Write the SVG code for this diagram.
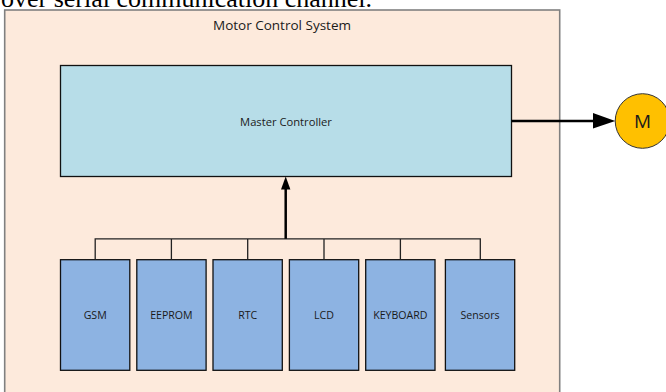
<svg xmlns="http://www.w3.org/2000/svg" width="666" height="392" viewBox="0 0 666 392">
<style>
.lbl{font-family:"Open Sans","Liberation Sans",sans-serif;font-size:10.6px;fill:#1a1a1a;text-anchor:middle;dominant-baseline:central}
.box{fill:#8db3e2;stroke:#111;stroke-width:1.3}
.bus{fill:none;stroke:#222;stroke-width:1.3}
</style>
<rect width="666" height="392" fill="#fff"/>
<text x="1" y="7" font-family="Liberation Serif,serif" font-size="26" fill="#000">over serial communication channel.</text>
<g id="system">
<rect x="4.7" y="10" width="555" height="400" fill="#fdeadc" stroke="#808080" stroke-width="1.6"/>
<text x="282" y="25" class="lbl" style="font-size:13.5px">Motor Control System</text>
</g>
<g id="master">
<rect x="60.5" y="65.5" width="451" height="111" fill="#b7dde8" stroke="#111" stroke-width="1.3"/>
<text x="286" y="121" class="lbl" style="font-size:11.2px">Master Controller</text>
</g>
<g id="motor">
<circle cx="642.5" cy="121" r="27.3" fill="#ffc000" stroke="#333" stroke-width="1"/>
<text x="642.5" y="121" class="lbl" style="font-size:19px">M</text>
</g>
<g id="gsm"><rect x="60.5" y="259.7" width="69.3" height="110.6" class="box"/><text x="95.2" y="315" class="lbl">GSM</text></g>
<g id="eeprom"><rect x="136.8" y="259.7" width="69.3" height="110.6" class="box"/><text x="171.4" y="315" class="lbl">EEPROM</text></g>
<g id="rtc"><rect x="213" y="259.7" width="69.3" height="110.6" class="box"/><text x="247.7" y="315" class="lbl">RTC</text></g>
<g id="lcd"><rect x="289.4" y="259.7" width="69.3" height="110.6" class="box"/><text x="324" y="315" class="lbl">LCD</text></g>
<g id="keyboard"><rect x="365.7" y="259.7" width="69.3" height="110.6" class="box"/><text x="400.4" y="315" class="lbl">KEYBOARD</text></g>
<g id="sensors"><rect x="445.4" y="259.7" width="69.3" height="110.6" class="box"/><text x="480" y="315" class="lbl">Sensors</text></g>
<g id="connectors">
<path class="bus" d="M95.2 259.7V238.8H480.3V259.7M171.4 238.8V259.7M247.7 238.8V259.7M324 238.8V259.7M400.4 238.8V259.7"/>
<line x1="285.7" y1="238.8" x2="285.7" y2="188" stroke="#000" stroke-width="2.5"/>
<polygon points="285.7,176.6 281,189.5 290.4,189.5" fill="#000"/>
<line x1="511.5" y1="121" x2="595" y2="121" stroke="#000" stroke-width="2.6"/>
<polygon points="615.2,121 593,113 593,128.5" fill="#000"/>
</g>
</svg>
